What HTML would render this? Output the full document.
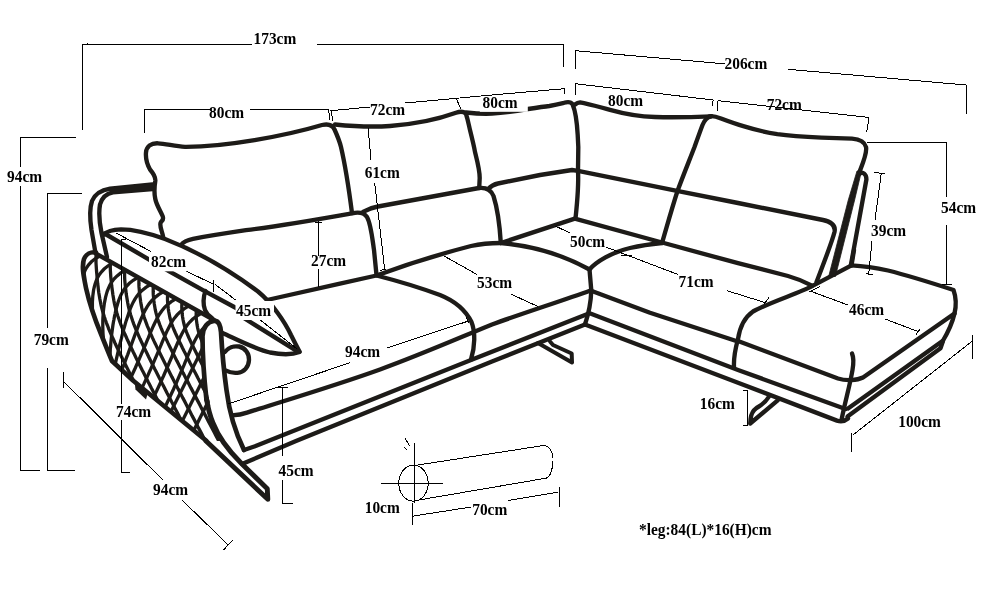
<!DOCTYPE html>
<html><head><meta charset="utf-8"><title>Sofa dimensions</title>
<style>html,body{margin:0;padding:0;background:#fff}svg{display:block;will-change:transform}</style></head>
<body><svg width="986" height="589" viewBox="0 0 986 589">
<rect width="986" height="589" fill="#fff"/>
<g fill="none" stroke="#1d1b18" stroke-width="4.35" stroke-linecap="round" stroke-linejoin="round">
<path d="M163.3,237.5 C162.5,232 159.5,227 160.5,223 C161.5,220.5 164,220.5 162.8,216.5 C160,210 156.5,205 155.3,199 C154,193 154.5,186 155.3,181 C155.8,177 153,173 150,169.5 C147,164 145.5,158 146,152.5 C146.5,146.5 151,143 158,143.3 C166,143.5 175,146.5 185,146.8 C225,147 285,136 322,125 C328,123.6 332.5,125 334.5,129.5 C337,135 339.5,141 341,147 C344,160 347.5,178 352,213"/>
<path d="M335,124.5 C350,126 370,127.3 390,126 C420,123.8 443,117.5 456,112.8 C460,111.3 464,111.5 466,114 C468,120 469,126 470,130 C472,138 474,146 475,152 C477.5,162 479.7,170 479.7,178 L479.2,188"/>
<path d="M466,112.5 C475,113.5 485,114 492,113.6 C505,113 517,111 528,109 C538,107.5 545,106.5 549.4,106 C555,105 560,103.8 564,102.8 C568,101.5 571,102 572.6,104.3 C575,110 577,122 577.7,135 L578.3,147 L578,171"/>
<path d="M575,104.5 C576.5,103.2 578,102.3 580,102.3 C590,104 600,107.2 610,109.8 C625,114 640,116.5 655,117 C675,117.5 695,117 711,116.3"/>
<path d="M711,116.3 C707,117 704.5,120 702.5,125 C699.5,133 697,140 694.5,147 C689.5,160 683,176 677.5,191 C672,208 667,226 662,243"/>
<path d="M709,116.5 C712,115.5 716,116.5 721,118.5 C729,121.5 737,124.3 744.2,126.4 C755,129.8 766,132.3 777.3,134.2 C792,136.3 807,137 821.4,137.6 L852,138.6 C859,139 864.5,141.5 866,147 C867.3,153 863,163 859.8,171"/>
<path d="M860,173.5 C862.5,171.5 866.5,174 866.4,179.5 L850.9,265"/>
<path d="M181.5,244.5 C183.5,241.5 188,239.8 193,238.8 C211,235.5 230,232.6 246,230.2 C280,226 320,219 352,213.3 C358,212 364,212.5 367,217 C371,224 372.5,240 374,250 L376.5,275"/>
<path d="M363,211.8 C368,209 372,207.5 378,206.5 L479,188 C486,187.3 491,190 493.5,196 C497,207 499.7,225 500.8,243"/>
<path d="M488,189 C491,186 494,184.3 498,183.5 L540,175 L572,170 L578,170.8"/>
<path d="M578,171 C578.8,185 577.5,200 575.5,218.5"/>
<path d="M578,170.8 L677,190.8 L738,203 L823,220 C830,221.5 836,225 834.5,232 C832,242 825,260 816.5,282"/>
<path d="M267,300 C300,292.5 340,283.5 376.5,275.5 C405,265 440,254 471,246 C482,243.5 492,243 500.8,243 L574.8,218.6 L662,242.5 L738,263.2 L788,276 C797,278.5 805,282 812,285.6"/>
<path d="M376.5,275.5 C400,281.5 425,289.5 440,295 C455,301 466,311 471.5,322 C475.5,332 475,347 471,359.5"/>
<path d="M500.8,243 C535,246 565,256 589.5,269.5 C596,262 612,252 630,248 C642,245.3 652,244 662,243"/>
<path d="M589.5,269.5 L591.3,290.5 C591,300 589.5,311 585,324.5"/>
<path d="M232,415.3 C238,415 243,414 247,412.6 C300,396 340,384 380,369.5 C420,355 460,337.5 492,324.5 C525,312.5 560,301.5 590.5,290.5"/>
<path d="M244,450 L255,446.3 L471,360 L587.5,314"/>
<path d="M242,464 L296,441 L492,361.5 L585,324.5"/>
<path d="M590.5,290.5 L650,312.8 L737,341.3"/>
<path d="M589,313 L738,370 L845.5,409"/>
<path d="M585,324.5 L738,382.7 L837,420.6 C841,422 845,421 848,418.5"/>
<path d="M851.5,265.3 L813,285.7 C800,293 770,302 753,311.5 C745,317 740,326 738,339 C735,350 733.5,358 734,367"/>
<path d="M851.5,265.3 C865,266 877,268 888,270.5 C910,276 935,284 953.5,290 C956,297 956.5,305 954.5,313.5 C953,320 950,329 942.5,341.5"/>
<path d="M738,341 L838,378.5 C846,381 857,380.5 863,377.5 L954.5,313.5"/>
<path d="M852,353.5 C854,358 853.5,364 852.5,370 C850,385 845,402 841.5,420"/>
<path d="M848,408.5 L942.5,341"/>
<path d="M847.5,416.5 L940.5,348.3 L943,341"/>
<path d="M854,250 L851.5,265.3"/>
<path d="M538,343 L572,362.5 L571.7,353.5 L553,345 L550,341.5" stroke-width="4"/>
<path d="M768.7,397 C766,401.5 761,405.5 756.5,408 C753,410.5 751.2,414 750.6,418.7 L750.2,423.5 L777.7,400.4" stroke-width="4.3"/>
<path d="M104,234.5 C107,231 113,229.5 121,229.3 C135,229.3 150,233.5 165,239 C195,250.5 230,270.5 258,291.5 C272,303 285,322 291,335 C294,341 297,347 299.5,351.5"/>
<path d="M104.5,233.5 L169.3,271.4 L204.2,290.8 L237,308.5"/>
<path d="M243,317.5 L298.2,351.8"/>
<path d="M299.5,352 C292,355 280,354.5 270,352.5 C255,349 238,340 221.5,332.5"/>
<path d="M205.5,291 C203,297 203,305 205,310 C206.5,314 209,316 212,318"/>
<path d="M95.5,253.3 L214,320"/>
<path d="M152.5,184.5 L110,188.7 C102,190 95,194 92,201 C89.3,209 90,220 91.5,230 L95.5,253"/>
<path d="M152.5,189.2 L113,192.3 C107,193.3 102,197.5 100,204.5 C98.5,213 99.7,224 101.5,233 L107,257"/>
<path d="M96,252.5 C91,251.5 86,254 84,259 C81.5,266 83.5,276 86,288 C90,306 96,322 101,334 C105,344 109,354 112,361 L133,380.5 L206,440.5" stroke-width="4.6"/>
<path d="M206.5,400 C204.5,382 202.5,355 202.5,336 C203,327 208,321.5 214,321 C219,320.5 220.5,326 221,332 C222,350 224,372 226.5,390 C229,410 233,428 244,450" stroke-width="4.7"/>
<path d="M206.5,399 C208,408 210,416 213,423 C218,436 228,450 241,463 L267.3,488.8 L267.8,499.3 L206,441" stroke-width="4.9"/>
<path d="M224.8,352 C228,347.5 234,345.7 239,346.5 C245.5,347.8 249.3,354 249,360 C248.7,367 244,372.3 237.5,372.8 C233,373.2 229,372.3 226,370.5"/>
</g>
<path d="M153,183.5 L108,188 L110.5,193 L153,190.3 Z" fill="#1d1b18"/>
<path d="M857,171 L848.3,200 L828.8,276 L835.4,276.5 L854.6,200 L861.5,171 Z" fill="#1d1b18" stroke="#1d1b18" stroke-width="0.8" stroke-linejoin="round"/>
<path d="M134.7,382.5 L135.5,389.5 L146,399.5 L148,392.5 Z" fill="#1d1b18"/>
<clipPath id="qc"><path d="M96,252.5 C91,251.5 86,254 84,259 C81.5,266 83.5,276 86,288 C90,306 96,322 101,334 C105,344 109,354 112,361 L133,380.5 L207,441 L222,441 C211,420 204,380 202.5,336 C203,327 208,321.5 214,321 L214,320 Z"/></clipPath>
<g clip-path="url(#qc)" fill="none" stroke="#1d1b18" stroke-width="3.3">
<path d="M96.3,253.8 L96.0,256.8 L96.0,259.8 L96.0,262.8 L96.2,265.8 L96.4,268.8 L96.6,271.8 L96.9,274.8 L97.1,277.8 L97.4,280.8 L97.7,283.8 L98.1,286.8 L98.4,289.8 L98.8,292.8 L99.3,295.8 L99.8,298.8 L100.4,301.8 L101.0,304.8 L101.7,307.8 L102.5,310.8 L103.4,313.8 L104.3,316.8 L105.3,319.8 L106.4,322.8 L107.6,325.8 L108.7,328.8 L110.0,331.8 L111.3,334.8 L112.6,337.8 L114.0,340.8 L115.3,343.8 L116.7,346.8 L118.2,349.8 L119.6,352.8 L121.0,355.8 L122.5,358.8 L124.0,361.8 L125.5,364.8 L127.0,367.8 L128.5,370.8 L130.0,373.8 L131.5,376.8 L133.0,379.8 L134.6,382.8 L136.1,385.8 L137.6,388.8 L139.2,391.8 L140.7,394.8 L142.3,397.8 L143.8,400.8 L145.4,403.8 L146.9,406.8 L148.5,409.8 L150.0,412.8 L151.6,415.8 L153.1,418.8 L154.7,421.8 L156.3,424.8 L157.8,427.8 L159.4,430.8 L161.0,433.8 L162.5,436.8 L164.1,439.8 L165.7,442.8 L167.3,445.8 L168.8,448.8 L170.4,451.8 L172.0,454.8 L173.5,457.8 L175.1,460.8 L176.7,463.8 L178.3,466.8 L179.8,469.8 L181.4,472.8 L183.0,475.8 L184.6,478.8 L186.2,481.8"/>
<path d="M110.6,261.8 L110.3,264.8 L110.3,267.8 L110.4,270.8 L110.6,273.8 L110.8,276.8 L111.1,279.8 L111.4,282.8 L111.7,285.8 L112.1,288.8 L112.5,291.8 L112.9,294.8 L113.4,297.8 L113.9,300.8 L114.5,303.8 L115.2,306.8 L116.0,309.8 L116.8,312.8 L117.7,315.8 L118.8,318.8 L119.8,321.8 L121.0,324.8 L122.2,327.8 L123.4,330.8 L124.7,333.8 L126.1,336.8 L127.4,339.8 L128.8,342.8 L130.2,345.8 L131.7,348.8 L133.1,351.8 L134.6,354.8 L136.0,357.8 L137.5,360.8 L139.0,363.8 L140.5,366.8 L142.0,369.8 L143.6,372.8 L145.1,375.8 L146.6,378.8 L148.1,381.8 L149.7,384.8 L151.2,387.8 L152.8,390.8 L154.3,393.8 L155.9,396.8 L157.4,399.8 L159.0,402.8 L160.5,405.8 L162.1,408.8 L163.7,411.8 L165.2,414.8 L166.8,417.8 L168.3,420.8 L169.9,423.8 L171.5,426.8 L173.0,429.8 L174.6,432.8 L176.2,435.8 L177.8,438.8 L179.3,441.8 L180.9,444.8 L182.5,447.8 L184.1,450.8 L185.6,453.8 L187.2,456.8 L188.8,459.8 L190.4,462.8 L191.9,465.8 L193.5,468.8 L195.1,471.8 L196.7,474.8 L198.2,477.8 L199.8,480.8 L201.4,483.8 L203.0,486.8 L204.6,489.8"/>
<path d="M124.9,269.8 L124.6,272.8 L124.6,275.8 L124.7,278.8 L124.9,281.8 L125.2,284.8 L125.5,287.8 L125.9,290.8 L126.2,293.8 L126.7,296.8 L127.2,299.8 L127.7,302.8 L128.3,305.8 L129.0,308.8 L129.8,311.8 L130.6,314.8 L131.6,317.8 L132.6,320.8 L133.7,323.8 L134.9,326.8 L136.1,329.8 L137.4,332.8 L138.7,335.8 L140.0,338.8 L141.4,341.8 L142.8,344.8 L144.2,347.8 L145.7,350.8 L147.2,353.8 L148.6,356.8 L150.1,359.8 L151.6,362.8 L153.1,365.8 L154.6,368.8 L156.2,371.8 L157.7,374.8 L159.2,377.8 L160.8,380.8 L162.3,383.8 L163.9,386.8 L165.4,389.8 L166.9,392.8 L168.5,395.8 L170.1,398.8 L171.6,401.8 L173.2,404.8 L174.7,407.8 L176.3,410.8 L177.9,413.8 L179.4,416.8 L181.0,419.8 L182.6,422.8 L184.1,425.8 L185.7,428.8 L187.3,431.8 L188.9,434.8 L190.4,437.8 L192.0,440.8 L193.6,443.8 L195.1,446.8 L196.7,449.8 L198.3,452.8 L199.9,455.8 L201.5,458.8 L203.0,461.8 L204.6,464.8 L206.2,467.8 L207.8,470.8 L209.3,473.8 L210.9,476.8 L212.5,479.8 L214.1,482.8 L215.7,485.8 L217.3,488.8 L218.8,491.8 L220.4,494.8 L222.0,497.8"/>
<path d="M139.2,277.9 L138.9,280.9 L138.9,283.9 L139.0,286.9 L139.3,289.9 L139.5,292.9 L139.9,295.9 L140.3,298.9 L140.7,301.9 L141.2,304.9 L141.8,307.9 L142.5,310.9 L143.3,313.9 L144.1,316.9 L145.1,319.9 L146.2,322.9 L147.3,325.9 L148.6,328.9 L149.8,331.9 L151.2,334.9 L152.5,337.9 L153.9,340.9 L155.4,343.9 L156.8,346.9 L158.3,349.9 L159.8,352.9 L161.3,355.9 L162.8,358.9 L164.3,361.9 L165.8,364.9 L167.3,367.9 L168.9,370.9 L170.4,373.9 L171.9,376.9 L173.5,379.9 L175.0,382.9 L176.6,385.9 L178.1,388.9 L179.7,391.9 L181.3,394.9 L182.8,397.9 L184.4,400.9 L186.0,403.9 L187.5,406.9 L189.1,409.9 L190.7,412.9 L192.2,415.9 L193.8,418.9 L195.4,421.9 L197.0,424.9 L198.5,427.9 L200.1,430.9 L201.7,433.9 L203.3,436.9 L204.8,439.9 L206.4,442.9 L208.0,445.9 L209.6,448.9 L211.2,451.9 L212.7,454.9 L214.3,457.9 L215.9,460.9 L217.5,463.9 L219.1,466.9 L220.6,469.9 L222.2,472.9 L223.8,475.9 L225.4,478.9 L227.0,481.9 L228.6,484.9 L230.1,487.9 L231.7,490.9 L233.3,493.9 L234.9,496.9 L236.5,499.9 L238.1,502.9 L239.7,505.9"/>
<path d="M153.5,285.9 L153.2,288.9 L153.2,291.9 L153.3,294.9 L153.6,297.9 L153.9,300.9 L154.3,303.9 L154.8,306.9 L155.3,309.9 L156.0,312.9 L156.8,315.9 L157.7,318.9 L158.7,321.9 L159.8,324.9 L161.0,327.9 L162.3,330.9 L163.7,333.9 L165.0,336.9 L166.5,339.9 L167.9,342.9 L169.4,345.9 L170.9,348.9 L172.4,351.9 L173.9,354.9 L175.4,357.9 L176.9,360.9 L178.5,363.9 L180.0,366.9 L181.6,369.9 L183.1,372.9 L184.7,375.9 L186.2,378.9 L187.8,381.9 L189.4,384.9 L190.9,387.9 L192.5,390.9 L194.1,393.9 L195.6,396.9 L197.2,399.9 L198.8,402.9 L200.4,405.9 L201.9,408.9 L203.5,411.9 L205.1,414.9 L206.7,417.9 L208.2,420.9 L209.8,423.9 L211.4,426.9 L213.0,429.9 L214.6,432.9 L216.1,435.9 L217.7,438.9 L219.3,441.9 L220.9,444.9 L222.5,447.9 L224.0,450.9 L225.6,453.9 L227.2,456.9 L228.8,459.9 L230.4,462.9 L232.0,465.9 L233.5,468.9 L235.1,471.9 L236.7,474.9 L238.3,477.9 L239.9,480.9 L241.5,483.9 L243.1,486.9 L244.6,489.9 L246.2,492.9 L247.8,495.9 L249.4,498.9 L251.0,501.9 L252.6,504.9 L254.2,507.9 L255.7,510.9 L257.3,513.9"/>
<path d="M167.8,294.0 L167.5,297.0 L167.5,300.0 L167.7,303.0 L168.0,306.0 L168.3,309.0 L168.8,312.0 L169.4,315.0 L170.0,318.0 L170.9,321.0 L171.8,324.0 L172.9,327.0 L174.1,330.0 L175.4,333.0 L176.8,336.0 L178.2,339.0 L179.6,342.0 L181.1,345.0 L182.5,348.0 L184.0,351.0 L185.6,354.0 L187.1,357.0 L188.6,360.0 L190.1,363.0 L191.7,366.0 L193.2,369.0 L194.8,372.0 L196.4,375.0 L197.9,378.0 L199.5,381.0 L201.0,384.0 L202.6,387.0 L204.2,390.0 L205.7,393.0 L207.3,396.0 L208.9,399.0 L210.5,402.0 L212.0,405.0 L213.6,408.0 L215.2,411.0 L216.8,414.0 L218.4,417.0 L219.9,420.0 L221.5,423.0 L223.1,426.0 L224.7,429.0 L226.3,432.0 L227.8,435.0 L229.4,438.0 L231.0,441.0 L232.6,444.0 L234.2,447.0 L235.8,450.0 L237.3,453.0 L238.9,456.0 L240.5,459.0 L242.1,462.0 L243.7,465.0 L245.3,468.0 L246.9,471.0 L248.4,474.0 L250.0,477.0 L251.6,480.0 L253.2,483.0 L254.8,486.0 L256.4,489.0 L258.0,492.0 L259.5,495.0 L261.1,498.0 L262.7,501.0 L264.3,504.0 L265.9,507.0 L267.5,510.0 L269.1,513.0 L270.7,516.0 L272.2,519.0 L273.8,522.0"/>
<path d="M182.1,302.0 L181.8,305.0 L181.8,308.0 L182.0,311.0 L182.2,314.0 L182.6,317.0 L183.1,320.0 L183.7,323.0 L184.5,326.0 L185.4,329.0 L186.5,332.0 L187.7,335.0 L189.0,338.0 L190.4,341.0 L191.8,344.0 L193.3,347.0 L194.8,350.0 L196.3,353.0 L197.8,356.0 L199.3,359.0 L200.9,362.0 L202.4,365.0 L204.0,368.0 L205.5,371.0 L207.1,374.0 L208.6,377.0 L210.2,380.0 L211.8,383.0 L213.3,386.0 L214.9,389.0 L216.5,392.0 L218.0,395.0 L219.6,398.0 L221.2,401.0 L222.8,404.0 L224.3,407.0 L225.9,410.0 L227.5,413.0 L229.1,416.0 L230.7,419.0 L232.2,422.0 L233.8,425.0 L235.4,428.0 L237.0,431.0 L238.6,434.0 L240.2,437.0 L241.7,440.0 L243.3,443.0 L244.9,446.0 L246.5,449.0 L248.1,452.0 L249.7,455.0 L251.3,458.0 L252.8,461.0 L254.4,464.0 L256.0,467.0 L257.6,470.0 L259.2,473.0 L260.8,476.0 L262.4,479.0 L263.9,482.0 L265.5,485.0 L267.1,488.0 L268.7,491.0 L270.3,494.0 L271.9,497.0 L273.5,500.0 L275.1,503.0 L276.6,506.0 L278.2,509.0 L279.8,512.0 L281.4,515.0 L283.0,518.0 L284.6,521.0 L286.2,524.0 L287.8,527.0 L289.3,530.0"/>
<path d="M196.4,310.1 L196.2,313.1 L196.2,316.1 L196.3,319.1 L196.7,322.1 L197.1,325.1 L197.7,328.1 L198.4,331.1 L199.3,334.1 L200.3,337.1 L201.5,340.1 L202.8,343.1 L204.2,346.1 L205.6,349.1 L207.0,352.1 L208.5,355.1 L210.0,358.1 L211.5,361.1 L213.0,364.1 L214.6,367.1 L216.1,370.1 L217.7,373.1 L219.2,376.1 L220.8,379.1 L222.3,382.1 L223.9,385.1 L225.5,388.1 L227.0,391.1 L228.6,394.1 L230.2,397.1 L231.7,400.1 L233.3,403.1 L234.9,406.1 L236.5,409.1 L238.0,412.1 L239.6,415.1 L241.2,418.1 L242.8,421.1 L244.4,424.1 L245.9,427.1 L247.5,430.1 L249.1,433.1 L250.7,436.1 L252.3,439.1 L253.9,442.1 L255.4,445.1 L257.0,448.1 L258.6,451.1 L260.2,454.1 L261.8,457.1 L263.4,460.1 L264.9,463.1 L266.5,466.1 L268.1,469.1 L269.7,472.1 L271.3,475.1 L272.9,478.1 L274.5,481.1 L276.1,484.1 L277.6,487.1 L279.2,490.1 L280.8,493.1 L282.4,496.1 L284.0,499.1 L285.6,502.1 L287.2,505.1 L288.7,508.1 L290.3,511.1 L291.9,514.1 L293.5,517.1 L295.1,520.1 L296.7,523.1 L298.3,526.1 L299.9,529.1 L301.4,532.1 L303.0,535.1 L304.6,538.1"/>
<path d="M210.7,318.1 L210.5,321.1 L210.5,324.1 L210.6,327.1 L211.0,330.1 L211.4,333.1 L212.0,336.1 L212.7,339.1 L213.6,342.1 L214.6,345.1 L215.8,348.1 L217.1,351.1 L218.5,354.1 L219.9,357.1 L221.3,360.1 L222.8,363.1 L224.3,366.1 L225.8,369.1 L227.3,372.1 L228.9,375.1 L230.4,378.1 L232.0,381.1 L233.5,384.1 L235.1,387.1 L236.6,390.1 L238.2,393.1 L239.8,396.1 L241.3,399.1 L242.9,402.1 L244.5,405.1 L246.0,408.1 L247.6,411.1 L249.2,414.1 L250.8,417.1 L252.3,420.1 L253.9,423.1 L255.5,426.1 L257.1,429.1 L258.7,432.1 L260.2,435.1 L261.8,438.1 L263.4,441.1 L265.0,444.1 L266.6,447.1 L268.2,450.1 L269.7,453.1 L271.3,456.1 L272.9,459.1 L274.5,462.1 L276.1,465.1 L277.7,468.1 L279.2,471.1 L280.8,474.1 L282.4,477.1 L284.0,480.1 L285.6,483.1 L287.2,486.1 L288.8,489.1 L290.4,492.1 L291.9,495.1 L293.5,498.1 L295.1,501.1 L296.7,504.1 L298.3,507.1 L299.9,510.1 L301.5,513.1 L303.0,516.1 L304.6,519.1 L306.2,522.1 L307.8,525.1 L309.4,528.1 L311.0,531.1 L312.6,534.1 L314.2,537.1 L315.7,540.1 L317.3,543.1 L318.9,546.1"/>
<path d="M100.0,255.8 L95.1,258.8 L91.4,261.8 L88.6,264.8 L86.5,267.8 L84.9,270.8 L83.6,273.8 L82.6,276.8 L81.9,279.8 L81.3,282.8 L80.9,285.8 L80.7,288.8 L80.6,291.8 L80.5,294.8 L80.6,297.8 L80.8,300.8 L81.1,303.8 L81.4,306.8 L81.9,309.8 L82.4,312.8 L83.0,315.8 L83.7,318.8 L84.5,321.8 L85.4,324.8 L86.3,327.8 L87.3,330.8 L88.4,333.8 L89.6,336.8 L90.9,339.8 L92.2,342.8 L93.7,345.8 L95.2,348.8 L96.8,351.8 L98.4,354.8 L100.2,357.8 L102.0,360.8 L103.9,363.8 L105.9,366.8 L108.0,369.8 L110.2,372.8 L112.4,375.8 L114.7,378.8 L117.1,381.8 L119.6,384.8 L122.2,387.8 L124.8,390.8 L127.5,393.8 L130.3,396.8 L133.2,399.8 L136.2,402.8 L139.3,405.8 L142.4,408.8 L145.6,411.8 L148.9,414.8 L152.3,417.8 L155.7,420.8 L159.2,423.8 L162.9,426.8 L166.6,429.8 L170.3,432.8 L174.2,435.8 L178.1,438.8 L182.2,441.8 L186.3,444.8 L190.4,447.8 L194.7,450.8 L199.1,453.8 L203.5,456.8 L208.0,459.8 L212.6,462.8 L217.3,465.8 L222.0,468.8 L226.8,471.8 L231.7,474.8 L236.7,477.8 L241.8,480.8 L247.0,483.8"/>
<path d="M112.7,263.0 L107.8,266.0 L104.1,269.0 L101.3,272.0 L99.1,275.0 L97.4,278.0 L96.1,281.0 L95.1,284.0 L94.3,287.0 L93.6,290.0 L93.2,293.0 L92.8,296.0 L92.6,299.0 L92.4,302.0 L92.4,305.0 L92.4,308.0 L92.5,311.0 L92.7,314.0 L93.0,317.0 L93.3,320.0 L93.7,323.0 L94.2,326.0 L94.8,329.0 L95.4,332.0 L96.1,335.0 L96.9,338.0 L97.8,341.0 L98.7,344.0 L99.7,347.0 L100.7,350.0 L101.9,353.0 L103.1,356.0 L104.3,359.0 L105.7,362.0 L107.1,365.0 L108.6,368.0 L110.2,371.0 L111.8,374.0 L113.5,377.0 L115.3,380.0 L117.1,383.0 L119.0,386.0 L121.0,389.0 L123.1,392.0 L125.2,395.0 L127.4,398.0 L129.7,401.0 L132.0,404.0 L134.4,407.0 L136.9,410.0 L139.5,413.0 L142.1,416.0 L144.8,419.0 L147.6,422.0 L150.4,425.0 L153.3,428.0 L156.3,431.0 L159.4,434.0 L162.5,437.0 L165.7,440.0 L169.0,443.0 L172.3,446.0 L175.7,449.0 L179.2,452.0 L182.7,455.0 L186.4,458.0 L190.0,461.0 L193.8,464.0 L197.6,467.0 L201.5,470.0 L205.5,473.0 L209.6,476.0 L213.7,479.0 L217.9,482.0 L222.1,485.0 L226.5,488.0 L230.9,491.0"/>
<path d="M125.4,270.1 L120.5,273.1 L116.8,276.1 L113.9,279.1 L111.7,282.1 L109.9,285.1 L108.5,288.1 L107.3,291.1 L106.4,294.1 L105.6,297.1 L105.0,300.1 L104.4,303.1 L104.0,306.1 L103.6,309.1 L103.3,312.1 L103.1,315.1 L102.9,318.1 L102.8,321.1 L102.8,324.1 L102.8,327.1 L102.9,330.1 L103.0,333.1 L103.2,336.1 L103.4,339.1 L103.7,342.1 L104.1,345.1 L104.5,348.1 L104.9,351.1 L105.4,354.1 L106.0,357.1 L106.6,360.1 L107.3,363.1 L108.0,366.1 L108.8,369.1 L109.6,372.1 L110.5,375.1 L111.4,378.1 L112.4,381.1 L113.4,384.1 L114.5,387.1 L115.7,390.1 L116.9,393.1 L118.1,396.1 L119.4,399.1 L120.8,402.1 L122.2,405.1 L123.7,408.1 L125.2,411.1 L126.8,414.1 L128.4,417.1 L130.1,420.1 L131.8,423.1 L133.6,426.1 L135.4,429.1 L137.3,432.1 L139.3,435.1 L141.3,438.1 L143.3,441.1 L145.4,444.1 L147.6,447.1 L149.8,450.1 L152.1,453.1 L154.4,456.1 L156.8,459.1 L159.2,462.1 L161.7,465.1 L164.2,468.1 L166.8,471.1 L169.4,474.1 L172.1,477.1 L174.9,480.1 L177.7,483.1 L180.5,486.1 L183.4,489.1 L186.4,492.1 L189.4,495.1 L192.5,498.1"/>
<path d="M138.1,277.3 L133.2,280.3 L129.4,283.3 L126.5,286.3 L124.2,289.3 L122.3,292.3 L120.8,295.3 L119.5,298.3 L118.4,301.3 L117.5,304.3 L116.6,307.3 L115.8,310.3 L115.2,313.3 L114.5,316.3 L114.0,319.3 L113.4,322.3 L112.9,325.3 L112.5,328.3 L112.1,331.3 L111.7,334.3 L111.4,337.3 L111.1,340.3 L110.8,343.3 L110.6,346.3 L110.3,349.3 L110.2,352.3 L110.0,355.3 L109.9,358.3 L109.9,361.3 L109.8,364.3 L109.8,367.3 L109.8,370.3 L109.9,373.3 L110.0,376.3 L110.1,379.3 L110.2,382.3 L110.4,385.3 L110.6,388.3 L110.9,391.3 L111.2,394.3 L111.5,397.3 L111.8,400.3 L112.2,403.3 L112.6,406.3 L113.1,409.3 L113.5,412.3 L114.0,415.3 L114.6,418.3 L115.2,421.3 L115.8,424.3 L116.4,427.3 L117.1,430.3 L117.8,433.3 L118.5,436.3 L119.3,439.3 L120.1,442.3 L120.9,445.3 L121.7,448.3 L122.6,451.3 L123.6,454.3 L124.5,457.3 L125.5,460.3 L126.5,463.3 L127.6,466.3 L128.7,469.3 L129.8,472.3 L130.9,475.3 L132.1,478.3 L133.3,481.3 L134.6,484.3 L135.9,487.3 L137.2,490.3 L138.5,493.3 L139.9,496.3 L141.3,499.3 L142.8,502.3 L144.2,505.3"/>
<path d="M150.8,284.4 L145.9,287.4 L142.1,290.4 L139.1,293.4 L136.7,296.4 L134.8,299.4 L133.1,302.4 L131.7,305.4 L130.4,308.4 L129.3,311.4 L128.3,314.4 L127.3,317.4 L126.3,320.4 L125.4,323.4 L124.6,326.4 L123.7,329.4 L122.9,332.4 L122.1,335.4 L121.4,338.4 L120.6,341.4 L119.8,344.4 L119.1,347.4 L118.4,350.4 L117.7,353.4 L117.0,356.4 L116.3,359.4 L115.6,362.4 L114.9,365.4 L114.3,368.4 L113.6,371.4 L113.0,374.4 L112.4,377.4 L111.8,380.4 L111.2,383.4 L110.6,386.4 L110.0,389.4 L109.5,392.4 L108.9,395.4 L108.4,398.4 L107.8,401.4 L107.3,404.4 L106.8,407.4 L106.3,410.4 L105.8,413.4 L105.3,416.4 L104.9,419.4 L104.4,422.4 L104.0,425.4 L103.5,428.4 L103.1,431.4 L102.7,434.4 L102.3,437.4 L101.9,440.4 L101.6,443.4 L101.2,446.4 L100.8,449.4 L100.5,452.4 L100.2,455.4 L99.8,458.4 L99.5,461.4 L99.2,464.4 L99.0,467.4 L98.7,470.4 L98.4,473.4 L98.2,476.4 L97.9,479.4 L97.7,482.4 L97.5,485.4 L97.3,488.4 L97.1,491.4 L96.9,494.4 L96.7,497.4 L96.5,500.4 L96.4,503.4 L96.2,506.4 L96.1,509.4 L96.0,512.4"/>
<path d="M163.5,291.6 L158.6,294.6 L154.8,297.6 L151.7,300.6 L149.3,303.6 L147.2,306.6 L145.5,309.6 L144.0,312.6 L142.5,315.6 L141.2,318.6 L140.0,321.6 L138.8,324.6 L137.7,327.6 L136.6,330.6 L135.4,333.6 L134.3,336.6 L133.2,339.6 L132.1,342.6 L131.0,345.6 L129.9,348.6 L128.8,351.6 L127.7,354.6 L126.5,357.6 L125.4,360.6 L124.3,363.6 L123.1,366.6 L122.0,369.6 L120.8,372.6 L119.6,375.6 L118.5,378.6 L117.3,381.6 L116.1,384.6 L114.9,387.6 L113.7,390.6 L112.5,393.6 L111.2,396.6 L110.0,399.6 L108.8,402.6 L107.5,405.6 L106.3,408.6 L105.0,411.6 L103.7,414.6 L102.5,417.6 L101.2,420.6 L99.9,423.6 L98.6,426.6 L97.3,429.6 L96.0,432.6 L94.6,435.6 L93.3,438.6 L92.0,441.6 L90.6,444.6 L89.3,447.6 L87.9,450.6 L86.6,453.6 L85.2,456.6 L83.8,459.6 L82.4,462.6 L81.0,465.6 L79.6,468.6 L78.2,471.6 L76.8,474.6 L75.3,477.6 L73.9,480.6 L72.5,483.6 L71.0,486.6 L69.6,489.6 L68.1,492.6 L66.6,495.6 L65.1,498.6 L63.6,501.6 L62.1,504.6 L60.6,507.6 L59.1,510.6 L57.6,513.6 L56.1,516.6 L54.5,519.6"/>
<path d="M176.2,298.7 L171.3,301.7 L167.4,304.7 L164.4,307.7 L161.9,310.7 L159.8,313.7 L158.0,316.7 L156.4,319.7 L154.9,322.7 L153.5,325.7 L152.2,328.7 L150.9,331.7 L149.6,334.7 L148.4,337.7 L147.1,340.7 L145.9,343.7 L144.6,346.7 L143.3,349.7 L142.0,352.7 L140.7,355.7 L139.4,358.7 L138.1,361.7 L136.7,364.7 L135.4,367.7 L134.0,370.7 L132.6,373.7 L131.2,376.7 L129.7,379.7 L128.3,382.7 L126.8,385.7 L125.3,388.7 L123.8,391.7 L122.3,394.7 L120.7,397.7 L119.2,400.7 L117.6,403.7 L116.0,406.7 L114.4,409.7 L112.7,412.7 L111.1,415.7 L109.4,418.7 L107.7,421.7 L106.0,424.7 L104.3,427.7 L102.5,430.7 L100.8,433.7 L99.0,436.7 L97.2,439.7 L95.4,442.7 L93.6,445.7 L91.7,448.7 L89.8,451.7 L87.9,454.7 L86.0,457.7 L84.1,460.7 L82.2,463.7 L80.2,466.7 L78.2,469.7 L76.2,472.7 L74.2,475.7 L72.2,478.7 L70.2,481.7 L68.1,484.7 L66.0,487.7 L63.9,490.7 L61.8,493.7 L59.6,496.7 L57.5,499.7 L55.3,502.7 L53.1,505.7 L50.9,508.7 L48.7,511.7 L46.4,514.7 L44.2,517.7 L41.9,520.7 L39.6,523.7 L37.3,526.7"/>
<path d="M188.9,305.9 L184.0,308.9 L180.1,311.9 L177.1,314.9 L174.6,317.9 L172.5,320.9 L170.7,323.9 L169.1,326.9 L167.6,329.9 L166.2,332.9 L164.9,335.9 L163.6,338.9 L162.3,341.9 L161.1,344.9 L159.8,347.9 L158.6,350.9 L157.3,353.9 L156.0,356.9 L154.7,359.9 L153.4,362.9 L152.1,365.9 L150.8,368.9 L149.4,371.9 L148.1,374.9 L146.7,377.9 L145.3,380.9 L143.9,383.9 L142.4,386.9 L141.0,389.9 L139.5,392.9 L138.0,395.9 L136.5,398.9 L135.0,401.9 L133.4,404.9 L131.9,407.9 L130.3,410.9 L128.7,413.9 L127.1,416.9 L125.4,419.9 L123.8,422.9 L122.1,425.9 L120.4,428.9 L118.7,431.9 L117.0,434.9 L115.2,437.9 L113.5,440.9 L111.7,443.9 L109.9,446.9 L108.1,449.9 L106.3,452.9 L104.4,455.9 L102.5,458.9 L100.6,461.9 L98.7,464.9 L96.8,467.9 L94.9,470.9 L92.9,473.9 L90.9,476.9 L88.9,479.9 L86.9,482.9 L84.9,485.9 L82.9,488.9 L80.8,491.9 L78.7,494.9 L76.6,497.9 L74.5,500.9 L72.3,503.9 L70.2,506.9 L68.0,509.9 L65.8,512.9 L63.6,515.9 L61.4,518.9 L59.1,521.9 L56.9,524.9 L54.6,527.9 L52.3,530.9 L50.0,533.9"/>
<path d="M201.6,313.0 L196.7,316.0 L192.8,319.0 L189.8,322.0 L187.3,325.0 L185.2,328.0 L183.4,331.0 L181.8,334.0 L180.3,337.0 L178.9,340.0 L177.6,343.0 L176.3,346.0 L175.0,349.0 L173.8,352.0 L172.5,355.0 L171.3,358.0 L170.0,361.0 L168.7,364.0 L167.4,367.0 L166.1,370.0 L164.8,373.0 L163.5,376.0 L162.1,379.0 L160.8,382.0 L159.4,385.0 L158.0,388.0 L156.6,391.0 L155.1,394.0 L153.7,397.0 L152.2,400.0 L150.7,403.0 L149.2,406.0 L147.7,409.0 L146.1,412.0 L144.6,415.0 L143.0,418.0 L141.4,421.0 L139.8,424.0 L138.1,427.0 L136.5,430.0 L134.8,433.0 L133.1,436.0 L131.4,439.0 L129.7,442.0 L127.9,445.0 L126.2,448.0 L124.4,451.0 L122.6,454.0 L120.8,457.0 L119.0,460.0 L117.1,463.0 L115.2,466.0 L113.3,469.0 L111.4,472.0 L109.5,475.0 L107.6,478.0 L105.6,481.0 L103.6,484.0 L101.6,487.0 L99.6,490.0 L97.6,493.0 L95.6,496.0 L93.5,499.0 L91.4,502.0 L89.3,505.0 L87.2,508.0 L85.0,511.0 L82.9,514.0 L80.7,517.0 L78.5,520.0 L76.3,523.0 L74.1,526.0 L71.8,529.0 L69.6,532.0 L67.3,535.0 L65.0,538.0 L62.7,541.0"/>
<path d="M214.3,320.2 L209.4,323.2 L205.5,326.2 L202.5,329.2 L200.0,332.2 L197.9,335.2 L196.1,338.2 L194.5,341.2 L193.0,344.2 L191.6,347.2 L190.3,350.2 L189.0,353.2 L187.7,356.2 L186.5,359.2 L185.2,362.2 L184.0,365.2 L182.7,368.2 L181.4,371.2 L180.1,374.2 L178.8,377.2 L177.5,380.2 L176.2,383.2 L174.8,386.2 L173.5,389.2 L172.1,392.2 L170.7,395.2 L169.3,398.2 L167.8,401.2 L166.4,404.2 L164.9,407.2 L163.4,410.2 L161.9,413.2 L160.4,416.2 L158.8,419.2 L157.3,422.2 L155.7,425.2 L154.1,428.2 L152.5,431.2 L150.8,434.2 L149.2,437.2 L147.5,440.2 L145.8,443.2 L144.1,446.2 L142.4,449.2 L140.6,452.2 L138.9,455.2 L137.1,458.2 L135.3,461.2 L133.5,464.2 L131.7,467.2 L129.8,470.2 L127.9,473.2 L126.0,476.2 L124.1,479.2 L122.2,482.2 L120.3,485.2 L118.3,488.2 L116.3,491.2 L114.3,494.2 L112.3,497.2 L110.3,500.2 L108.3,503.2 L106.2,506.2 L104.1,509.2 L102.0,512.2 L99.9,515.2 L97.7,518.2 L95.6,521.2 L93.4,524.2 L91.2,527.2 L89.0,530.2 L86.8,533.2 L84.5,536.2 L82.3,539.2 L80.0,542.2 L77.7,545.2 L75.4,548.2"/>
<path d="M203.7,346.0 L201.7,350.0 L199.7,354.0 L197.7,358.0 L195.7,362.0 L193.7,366.0 L191.7,370.0 L189.7,374.0 L187.7,378.0 L185.7,382.0 L183.7,386.0 L181.7,390.0 L179.7,394.0 L177.7,398.0 L175.7,402.0 L173.7,406.0 L171.7,410.0 L169.7,414.0 L167.7,418.0 L165.7,422.0 L163.7,426.0 L161.7,430.0 L159.7,434.0 L157.7,438.0 L155.7,442.0 L153.7,446.0 L151.7,450.0 L149.7,454.0 L147.7,458.0 L145.7,462.0 L143.7,466.0"/>
<path d="M206.8,372.0 L204.8,376.0 L202.8,380.0 L200.8,384.0 L198.8,388.0 L196.8,392.0 L194.8,396.0 L192.8,400.0 L190.8,404.0 L188.8,408.0 L186.8,412.0 L184.8,416.0 L182.8,420.0 L180.8,424.0 L178.8,428.0 L176.8,432.0 L174.8,436.0 L172.8,440.0 L170.8,444.0 L168.8,448.0 L166.8,452.0 L164.8,456.0 L162.8,460.0 L160.8,464.0 L158.8,468.0 L156.8,472.0 L154.8,476.0 L152.8,480.0 L150.8,484.0 L148.8,488.0 L146.8,492.0"/>
<path d="M210.0,398.0 L208.0,402.0 L206.0,406.0 L204.0,410.0 L202.0,414.0 L200.0,418.0 L198.0,422.0 L196.0,426.0 L194.0,430.0 L192.0,434.0 L190.0,438.0 L188.0,442.0 L186.0,446.0 L184.0,450.0 L182.0,454.0 L180.0,458.0 L178.0,462.0 L176.0,466.0 L174.0,470.0 L172.0,474.0 L170.0,478.0 L168.0,482.0 L166.0,486.0 L164.0,490.0 L162.0,494.0 L160.0,498.0 L158.0,502.0 L156.0,506.0 L154.0,510.0 L152.0,514.0 L150.0,518.0"/>
</g>
<g fill="none" stroke="#000" stroke-width="1" shape-rendering="crispEdges">
<path d="M82.5,129.5 V44 H252"/>
<path d="M87.5,43 V44.5"/>
<path d="M316.5,44 H563.7 V67"/>
<path d="M575.5,69 V50.7 L724.5,63.8"/>
<path d="M788,69.3 L966,85 V114"/>
<path d="M144.5,133 V109 H209.5"/>
<path d="M250,109 H328.5 L330,120"/>
<path d="M333,121 L331,110.7 L370,107"/>
<path d="M405.5,103 L492,95 L564.5,88.7 V94"/>
<path d="M456.4,98.7 L460.6,108.6"/>
<path d="M575.3,95 V83.7 L713.3,100 L712,106"/>
<path d="M717,111 L718,100.7 L869,117.5 L866.7,132.5"/>
<path d="M867,142.5 H946.7 V197"/>
<path d="M946.7,224.5 V284.5"/>
<path d="M941.5,284.5 H952"/>
<path d="M874,172.6 L885.5,173.6"/>
<path d="M881.3,173 L875,220"/>
<path d="M872,241.5 L868.7,274"/>
<path d="M865.5,273.7 L872.5,274.6"/>
<path d="M76,137.5 H20.5 V167"/>
<path d="M20.5,186 V470.5 H40"/>
<path d="M82,193.3 H46.5"/>
<path d="M47.5,193.3 V328"/>
<path d="M47.5,368 V470.5 H75"/>
<path d="M126,239.5 H121.5 V404"/>
<path d="M121.5,420 V472.5 H130"/>
<path d="M63.7,371.5 V388"/>
<path d="M63.7,381.5 L162.5,479.7"/>
<path d="M182.5,500.5 L228,544.7"/>
<path d="M223.7,549.7 L232.5,540.5"/>
<path d="M116,233 L151,251.5"/>
<path d="M186,271 L214,284.5"/>
<path d="M213,279.5 V292.4"/>
<path d="M215.4,284.6 L235.6,300"/>
<path d="M260.3,320 L296.7,348.6"/>
<path d="M318,220.7 V256"/>
<path d="M318,269 V287"/>
<path d="M314.5,222 H322"/>
<path d="M368,127.5 L371,159.5"/>
<path d="M374.7,183 L384.7,269.5"/>
<path d="M380,270.7 L386,269"/>
<path d="M443.5,255.7 L477,274.5"/>
<path d="M510.7,294 L538,306.5"/>
<path d="M554.5,225.7 L569.5,232.7"/>
<path d="M621,255.5 H632"/>
<path d="M605.7,247 L678,274.5"/>
<path d="M727,290.7 L765.5,302.7"/>
<path d="M769,297.7 L764,304"/>
<path d="M810,291 L848,305"/>
<path d="M809,292 L820,286.5"/>
<path d="M885,319 L918,331.5"/>
<path d="M920,329 L916,334.7"/>
<path d="M851.7,432.7 V452"/>
<path d="M853,435 L972,341.3"/>
<path d="M972.5,335 V358.5"/>
<path d="M742.5,390.5 H747.5 V425.5 H742.5"/>
<path d="M228,404 L350,362.7"/>
<path d="M387,348 L468.5,321"/>
<path d="M466,317 L469,322.7"/>
<path d="M277,387.5 H288"/>
<path d="M282.7,387.5 V456"/>
<path d="M282.7,480.4 V503"/>
<path d="M281.5,503 H292.6"/>
<path d="M414.7,465.5 L542.3,445.7"/>
<path d="M414.7,500.7 L546,478.2"/>
<path d="M542.3,445.7 C550,445 553.5,453 553,461.5 C552.5,470 550,477.5 546,478.2"/>
<path d="M414.7,443 V502.5"/>
<path d="M412.5,502.5 V524.5"/>
<path d="M381,483.2 H443"/>
<path d="M404.7,437.5 L409.7,446.2"/>
<path d="M404,447 L407,450"/>
<path d="M412.5,516.2 L471,507"/>
<path d="M508.5,500.5 L558.5,492"/>
<path d="M559.7,487 V507"/>
<ellipse cx="413.5" cy="483.2" rx="14.7" ry="18"/>
</g>
<g font-family="'Liberation Serif', serif" font-weight="bold" font-size="15.4" fill="#000">
<text transform="translate(253.5,44) scale(1,1.07)">173cm</text>
<text transform="translate(724.5,68.7) scale(1,1.07)">206cm</text>
<text transform="translate(209,118) scale(1,1.07)">80cm</text>
<text transform="translate(370,115.2) scale(1,1.07)">72cm</text>
<rect x="479.8" y="96.5" width="48" height="15.3" fill="#fff"/>
<text transform="translate(482.5,108) scale(1,1.07)">80cm</text>
<text transform="translate(608,106) scale(1,1.07)">80cm</text>
<text transform="translate(766.7,110) scale(1,1.07)">72cm</text>
<text transform="translate(7,181.5) scale(1,1.07)">94cm</text>
<text transform="translate(364.7,177.5) scale(1,1.07)">61cm</text>
<text transform="translate(941,212.7) scale(1,1.07)">54cm</text>
<text transform="translate(871,235.7) scale(1,1.07)">39cm</text>
<rect x="149" y="255" width="38" height="16.3" fill="#fff"/>
<text transform="translate(151,267) scale(1,1.07)">82cm</text>
<text transform="translate(311,265.7) scale(1,1.07)">27cm</text>
<text transform="translate(570,246.5) scale(1,1.07)">50cm</text>
<text transform="translate(477,288) scale(1,1.07)">53cm</text>
<text transform="translate(678.6,286.5) scale(1,1.07)">71cm</text>
<rect x="235.5" y="301" width="38.5" height="19" fill="#fff"/>
<text transform="translate(236,316) scale(1,1.07)">45cm</text>
<text transform="translate(849,314.5) scale(1,1.07)">46cm</text>
<text transform="translate(33.7,344.7) scale(1,1.07)">79cm</text>
<text transform="translate(345,357) scale(1,1.07)">94cm</text>
<text transform="translate(116,416.5) scale(1,1.07)">74cm</text>
<text transform="translate(699.8,408.5) scale(1,1.07)">16cm</text>
<text transform="translate(898.2,426.5) scale(1,1.07)">100cm</text>
<text transform="translate(278.6,476) scale(1,1.07)">45cm</text>
<text transform="translate(153,494.7) scale(1,1.07)">94cm</text>
<text transform="translate(364.7,512.5) scale(1,1.07)">10cm</text>
<text transform="translate(472.2,515) scale(1,1.07)">70cm</text>
<text transform="translate(639,535) scale(1,1.07)">*leg:84(L)*16(H)cm</text>
</g>
</svg></body></html>
